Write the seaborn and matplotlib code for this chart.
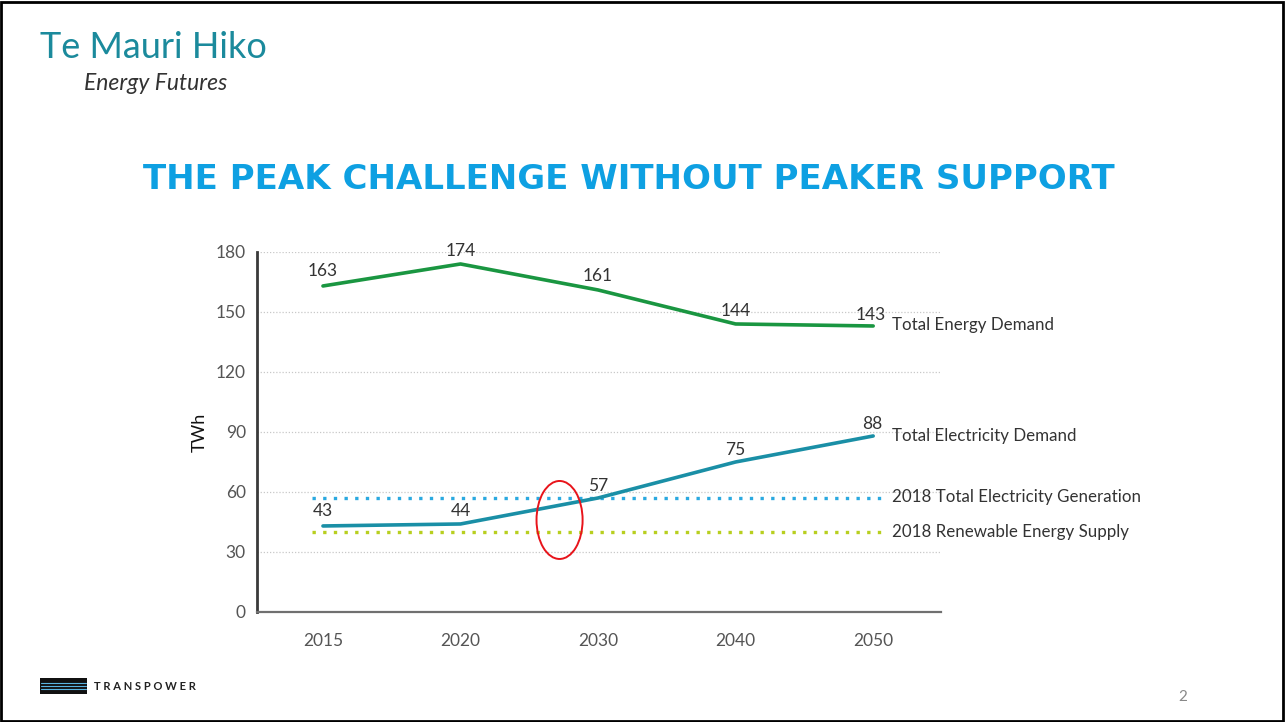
import pandas as pd
import numpy as np
import seaborn as sns
import matplotlib.pyplot as plt
from matplotlib.patches import Ellipse, Rectangle
from matplotlib.lines import Line2D

# Chart data
years = ["2015", "2020", "2030", "2040", "2050"]
energy_demand = [163, 174, 161, 144, 143]
electricity_demand = [43, 44, 57, 75, 88]
generation_2018 = 57
renewable_2018 = 40
y_ticks = [0, 30, 60, 90, 120, 150, 180]

series_names = ["Total Energy Demand", "Total Electricity Demand"]
ref_names = ["2018 Total Electricity Generation", "2018 Renewable Energy Supply"]

green = "#1a9641"
teal = "#1a8fa6"
sky = "#2aa9e0"
lime = "#b8cf1f"
title_blue = "#0ea0e2"

df = pd.DataFrame({
    "Year": years * 2,
    "TWh": energy_demand + electricity_demand,
    "Series": [series_names[0]] * 5 + [series_names[1]] * 5,
})

sns.set_style("white")
plt.rcParams["font.family"] = ["Lato", "DejaVu Sans"]

fig = plt.figure(figsize=(12.86, 7.22), dpi=100)
ax = fig.add_axes([0.1998, 0.1524, 0.5316, 0.4986])

# reference lines (2018 supply)
ax.hlines(generation_2018, -0.08, 4.07, colors=sky, linestyles=(0, (1, 2.2)), linewidth=2.4, zorder=2)
ax.hlines(renewable_2018, -0.08, 4.07, colors=lime, linestyles=(0, (1, 2.2)), linewidth=2.4, zorder=2)

sns.lineplot(data=df, x="Year", y="TWh", hue="Series", palette=[green, teal],
             linewidth=2.6, legend=False, ax=ax, zorder=3)

ax.set_xlim(-0.48, 4.49)
ax.set_ylim(0, 180)
ax.set_yticks(y_ticks)
ax.yaxis.grid(True, color="#c8c8c8", linestyle=(0, (1, 1.5)), linewidth=0.9)
ax.set_axisbelow(True)

for s in ["top", "right"]:
    ax.spines[s].set_visible(False)
ax.spines["left"].set_color("#3a3a3a")
ax.spines["left"].set_linewidth(2)
ax.spines["bottom"].set_color("#707070")
ax.spines["bottom"].set_linewidth(1.6)

ax.tick_params(axis="both", length=0, labelsize=12.5, labelcolor="#555555")
ax.tick_params(axis="y", pad=8)
ax.tick_params(axis="x", pad=15.5)
ax.set_xlabel("")
ax.set_ylabel("TWh", fontsize=13, color="#111111", labelpad=5.5)

# value labels (offsets in points, centre of text above point)
offsets_e = [11, 9.5, 10, 9.5, 8]
for i, v in enumerate(energy_demand):
    dx = -1.5 if i == 4 else 0
    ax.annotate(str(v), (i, v), xytext=(dx, offsets_e[i]), textcoords="offset points",
                ha="center", va="center", fontsize=12.5, color="#333333")
offsets_l = [11, 9.5, 8.6, 8.6, 8.6]
for i, v in enumerate(electricity_demand):
    dx = -1 if i == 4 else 0
    ax.annotate(str(v), (i, v), xytext=(dx, offsets_l[i]), textcoords="offset points",
                ha="center", va="center", fontsize=12.5, color="#333333")

# right-hand series labels
label_x = 4.14
ax.text(label_x, energy_demand[-1] + 0.5, series_names[0], fontsize=12.2, color="#333333", va="center", clip_on=False)
ax.text(label_x, electricity_demand[-1], series_names[1], fontsize=12.2, color="#333333", va="center", clip_on=False)
ax.text(label_x, generation_2018 + 0.5, ref_names[0], fontsize=12.2, color="#333333", va="center", clip_on=False)
ax.text(label_x, renewable_2018, ref_names[1], fontsize=12.2, color="#333333", va="center", clip_on=False)

# crossover highlight
ax.add_patch(Ellipse((1.72, 46), 0.335, 39, fill=False, edgecolor="#e8141b", linewidth=1.4, zorder=4))

# title
fig.text(0.489, 0.751, "THE PEAK CHALLENGE WITHOUT PEAKER SUPPORT", ha="center", va="center",
         fontsize=24.5, fontweight="bold", color=title_blue, family="DejaVu Sans")

# header logo
fig.text(0.031, 0.934, "Te Mauri Hiko", fontsize=26, color="#1b8a9c", va="center", ha="left")
fig.text(0.065, 0.884, "Energy Futures", fontsize=16.5, style="italic", color="#333333", va="center", ha="left")

# footer logo
fig.patches.append(Rectangle((0.031, 0.039), 0.037, 0.022, transform=fig.transFigure,
                             facecolor="#111111", edgecolor="none"))
for yy in [0.046, 0.050, 0.054]:
    fig.lines.append(Line2D([0.032, 0.067], [yy, yy], transform=fig.transFigure, color="#5ab4e0", linewidth=0.8))
fig.text(0.073, 0.049, "T R A N S P O W E R", fontsize=8, fontweight="bold", color="#222222", va="center")

fig.text(0.916, 0.034, "2", fontsize=11, color="#888888", va="center")

# slide border
fig.patches.append(Rectangle((0.001, 0.002), 0.997, 0.995, transform=fig.transFigure,
                             fill=False, edgecolor="#000000", linewidth=2))

fig.savefig("out.png", dpi=100)
